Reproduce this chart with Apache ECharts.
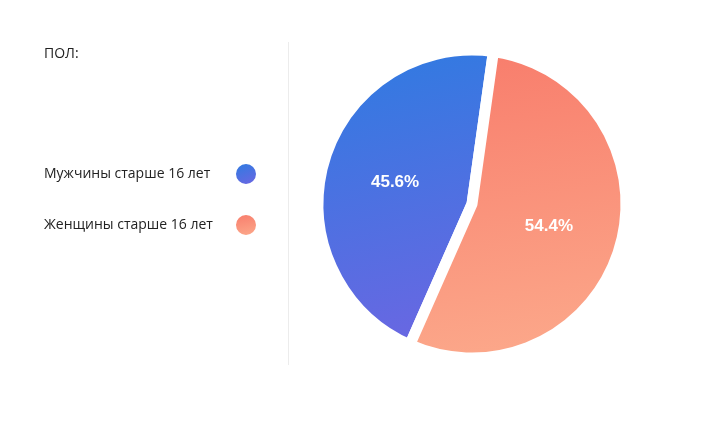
<!DOCTYPE html>
<html>
<head>
<meta charset="utf-8">
<script src="https://cdn.jsdelivr.net/npm/echarts@6/dist/echarts.min.js"></script>
<style>
  html, body { margin: 0; padding: 0; background: #fff; }
  #chart { width: 708px; height: 441px; }
</style>
</head>
<body>
<div id="chart"></div>
<script>
// данные
const titleText = 'ПОЛ:'
const categories = ['Мужчины старше 16 лет', 'Женщины старше 16 лет']
const values = [45.6, 54.4]
const gradients = [
    ['#2f7be1', '#6c66e2'],
    ['#f87d6c', '#fca98b']
]

let myChart = echarts.init(document.getElementById('chart'))

function grad(c, i) {
    // у синего сектора градиент немного по диагонали
    return i === 0
        ? new echarts.graphic.LinearGradient(0.3, 0, 0.7, 1, [{ offset: 0, color: c[0] }, { offset: 1, color: c[1] }])
        : new echarts.graphic.LinearGradient(0.4, 0, 0.6, 1, [{ offset: 0, color: c[0] }, { offset: 1, color: c[1] }])
}

let pieData = categories.map((name, i) => ({
    name: name,
    value: values[i],
    itemStyle: { color: grad(gradients[i], i) }
}))

let option = {
    animation: false,
    title: {
        text: titleText,
        left: 39,
        top: 42,
        textStyle: { fontFamily: 'Open Sans', fontSize: 14, fontWeight: 'normal', color: '#222' }
    },
    legend: {
        orient: 'vertical',
        left: 39,
        top: 157,
        align: 'right',
        itemWidth: 22,
        itemHeight: 22,
        itemGap: 27,
        icon: 'circle',
        data: categories,
        formatter: name => '{a|' + name + '}',
        textStyle: {
            fontFamily: 'Open Sans', fontSize: 14, color: '#222',
            rich: { a: { width: 186, align: 'left', fontFamily: 'Open Sans', fontSize: 14, color: '#222' } }
        }
    },
    graphic: [{
        type: 'line',
        shape: { x1: 288.5, y1: 42, x2: 288.5, y2: 365 },
        style: { stroke: '#ececec', lineWidth: 1 }
    }],
    series: [{
        type: 'pie',
        center: [472, 204],
        radius: 154,
        startAngle: 82,
        clockwise: false,
        data: pieData,
        itemStyle: { borderColor: '#fff', borderWidth: 11 },
        label: {
            show: true,
            position: 'inside',
            formatter: p => p.value.toFixed(1) + '%',
            color: '#fff',
            fontFamily: 'Liberation Sans',
            fontWeight: 'bold',
            fontSize: 17
        },
        labelLine: { show: false },
        emphasis: { disabled: true }
    }]
}
myChart.setOption(option)
window.addEventListener('resize', function () {
    myChart.resize()
})
</script>
</body>
</html>
